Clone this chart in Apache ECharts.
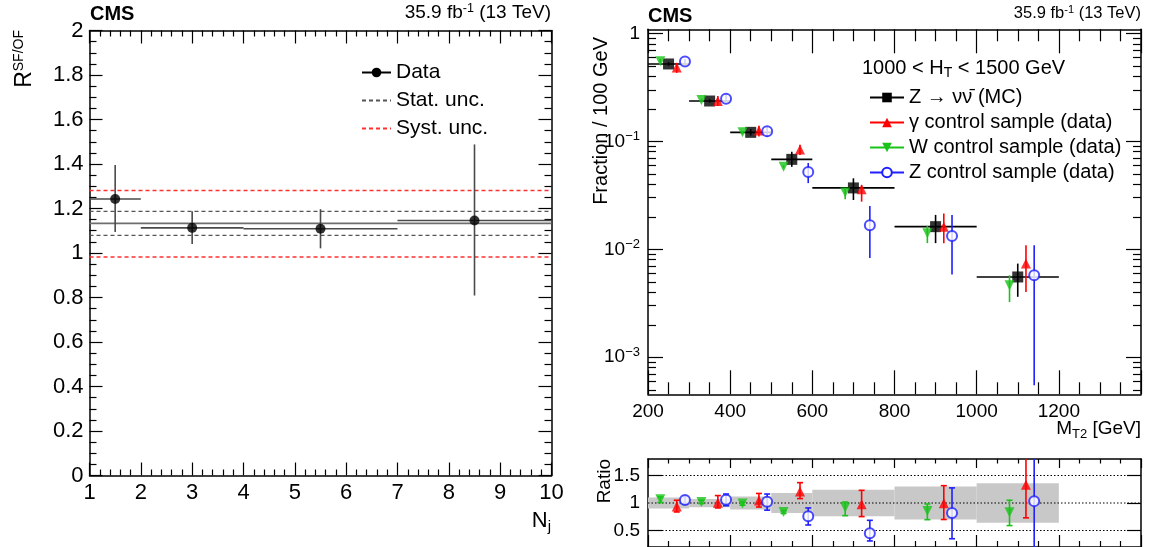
<!DOCTYPE html>
<html>
<head>
<meta charset="utf-8">
<title>R SF/OF and MT2 shapes</title>
<script src="https://cdn.jsdelivr.net/npm/echarts@6.0.0/dist/echarts.min.js"></script>
<style>
  html, body { margin: 0; padding: 0; background: #fff; }
  #main { width: 1149px; height: 547px; }
</style>
</head>
<body>
<div id="main"></div>
<script>
var FONT = '"Liberation Sans", Arial, Helvetica, sans-serif';

// ---- left: R(SF/OF) vs Nj ----
var njX = [1.5, 3, 5.5, 8.5];
var njLow = [1, 2, 4, 7];
var njHigh = [2, 4, 7, 10];
var rsfof = [1.243, 1.113, 1.109, 1.146];
var rsfofDown = [1.094, 1.040, 1.021, 0.809];
var rsfofUp = [1.395, 1.188, 1.197, 1.488];
var rCentral = 1.133;
var rStat = [1.079, 1.187];
var rSyst = [0.982, 1.281];

// ---- right: MT2 shape, 1000 < HT < 1500 GeV ----
var binLow = [200, 300, 400, 500, 600, 800, 1000];
var binHigh = [300, 400, 500, 600, 800, 1000, 1200];

var mcX = [250, 350, 450, 550, 700, 900, 1100];
var mcFrac = [0.520, 0.236, 0.121, 0.068, 0.037, 0.0162, 0.00554];
var mcDown = [0.500, 0.228, 0.113, 0.058, 0.0286, 0.0114, 0.00363];
var mcUp = [0.542, 0.245, 0.130, 0.080, 0.0454, 0.0208, 0.00737];

var gX = [270, 370, 470, 570, 720, 920, 1120];
var gFrac = [0.481, 0.236, 0.1256, 0.0838, 0.036, 0.0162, 0.00737];
var gDown = [0.430, 0.212, 0.111, 0.0746, 0.0276, 0.0114, 0.00403];
var gUp = [0.532, 0.262, 0.139, 0.093, 0.0394, 0.0214, 0.0109];

var wX = [230, 330, 430, 530, 680, 880, 1080];
var wFrac = [0.551, 0.241, 0.121, 0.058, 0.0335, 0.0141, 0.00464];
var wDown = [0.522, 0.234, 0.117, 0.056, 0.029, 0.0114, 0.00325];
var wUp = [0.580, 0.248, 0.125, 0.060, 0.037, 0.0165, 0.00575];

var zX = [290, 390, 490, 590, 740, 940, 1140];
var zFrac = [0.547, 0.248, 0.124, 0.052, 0.0167, 0.0133, 0.00575];
var zDown = [0.525, 0.235, 0.110, 0.041, 0.0083, 0.00583, 0.00055];
var zUp = [0.580, 0.270, 0.136, 0.063, 0.0252, 0.0208, 0.0109];

// ratio to MC
var bandHalf = [0.10, 0.075, 0.12, 0.18, 0.24, 0.30, 0.36];
var gRatio = [0.938, 1.005, 1.045, 1.208, 0.978, 0.994, 1.33];
var gRatioDown = [0.837, 0.91, 0.927, 1.08, 0.753, 0.70, 0.73];
var gRatioUp = [1.05, 1.135, 1.174, 1.37, 1.23, 1.315, 2.0];
var wRatio = [1.067, 1.02, 0.99, 0.837, 0.916, 0.854, 0.83];
var wRatioDown = [1.01, 0.99, 0.96, 0.81, 0.77, 0.697, 0.59];
var wRatioUp = [1.11, 1.05, 1.02, 0.86, 1.017, 0.983, 1.05];
var zRatio = [1.056, 1.06, 1.022, 0.758, 0.45, 0.82, 1.034];
var zRatioDown = [0.983, 0.95, 0.87, 0.60, 0.31, 0.35, 0.0];
var zRatioUp = [1.118, 1.163, 1.163, 0.91, 0.685, 1.275, 2.5];

// axis ticks
var logTicks = [-3, -2, -1, 0];
var ratioTicks = [0.5, 1, 1.5];
var logMin = -3.343, logMax = 0.037;

var RED = '#ff0000', GREEN = '#19c319', BLUE = '#1f1fff', BLACK = '#000';

var logMinor = [];
for (var n = -4; n <= 0; n++) {
    for (var k = 2; k <= 9; k++) {
        var v = Math.log10(k) + n;
        if (v > logMin && v < logMax) logMinor.push(v);
    }
}

function lg(v) { return Math.log10(v); }

// [x, y, lo, hi, xlo, xhi]
function rows(xs, ys, lo, hi, useLog, xl, xh) {
    var f = useLog ? lg : function (v) { return v; };
    return xs.map(function (x, i) {
        return [x, f(ys[i]), f(lo[i]), f(hi[i]), xl ? xl[i] : x, xh ? xh[i] : x];
    });
}
function markers(xs, ys, useLog) {
    return xs.map(function (x, i) { return [x, useLog ? lg(ys[i]) : ys[i]]; });
}

function barRender(color, xbar, cap) {
    return function (params, api) {
        var x = api.value(0);
        var hi = api.coord([x, api.value(3)]);
        var lo = api.coord([x, api.value(2)]);
        var st = { stroke: color, lineWidth: 1.6 };
        var kids = [{ type: 'line', shape: { x1: hi[0], y1: hi[1], x2: lo[0], y2: lo[1] }, style: st }];
        if (xbar) {
            var l = api.coord([api.value(4), api.value(1)]);
            var r = api.coord([api.value(5), api.value(1)]);
            kids.push({ type: 'line', shape: { x1: l[0], y1: l[1], x2: r[0], y2: r[1] }, style: st });
        }
        if (cap) {
            kids.push({ type: 'line', shape: { x1: hi[0] - 3, y1: hi[1], x2: hi[0] + 3, y2: hi[1] }, style: st });
            kids.push({ type: 'line', shape: { x1: lo[0] - 3, y1: lo[1], x2: lo[0] + 3, y2: lo[1] }, style: st });
        }
        return { type: 'group', children: kids };
    };
}

function bandRender(params, api) {
    var a = api.coord([api.value(0), api.value(3)]);
    var b = api.coord([api.value(1), api.value(2)]);
    return { type: 'rect', shape: { x: a[0], y: a[1], width: b[0] - a[0], height: b[1] - a[1] }, style: { fill: '#c8c8c8' } };
}

var tickStyle = { color: '#000', width: 1.2 };
var frame = { show: true, onZero: false, lineStyle: { color: '#000', width: 1.5 } };
var noLine = { show: false, onZero: false };

function xAx(grid, pos, min, max, interval, major, minor, split, labels) {
    return {
        gridIndex: grid, type: 'value', position: pos, min: min, max: max, interval: interval,
        axisLine: frame,
        axisTick: { inside: true, length: major, lineStyle: tickStyle },
        minorTick: { show: true, splitNumber: split, length: minor, lineStyle: tickStyle },
        axisLabel: labels || { show: false },
        splitLine: { show: false }
    };
}

var option = {
    animation: false,
    backgroundColor: '#fff',
    textStyle: { fontFamily: FONT },
    grid: [
        { left: 89.5, top: 30.5, width: 462, height: 445 },
        { left: 648, top: 29.3, width: 493, height: 365 },
        { left: 648, top: 459, width: 493, height: 95 }
    ],
    xAxis: [
        xAx(0, 'bottom', 1, 10, 1, 13, 6, 5, {
            fontSize: 22, color: '#000', fontFamily: FONT, margin: 6, showMinLabel: true, showMaxLabel: true
        }),
        xAx(0, 'top', 1, 10, 1, 13, 6, 5),
        xAx(1, 'bottom', 200, 1400, 200, 24, 12, 4, {
            fontSize: 19, color: '#000', fontFamily: FONT, margin: 8, showMinLabel: true,
            formatter: function (v) { return v === 1400 ? '' : String(v); }
        }),
        xAx(1, 'top', 200, 1400, 200, 24, 12, 4),
        xAx(2, 'bottom', 200, 1400, 200, 12, 6, 4),
        xAx(2, 'top', 200, 1400, 200, 9, 4.5, 4)
    ],
    yAxis: [
        {
            gridIndex: 0, type: 'value', position: 'left', min: 0, max: 2, interval: 0.2,
            axisLine: frame,
            axisTick: { inside: true, length: 13, lineStyle: tickStyle },
            minorTick: { show: true, splitNumber: 4, length: 7, lineStyle: tickStyle },
            axisLabel: {
                fontSize: 22, color: '#000', fontFamily: FONT, margin: 6,
                formatter: function (v) { return String(Math.round(v * 10) / 10); }
            },
            splitLine: { show: false }
        },
        {
            gridIndex: 0, type: 'value', position: 'right', min: 0, max: 2, interval: 0.2,
            axisLine: frame,
            axisTick: { inside: true, length: 13, lineStyle: tickStyle },
            minorTick: { show: true, splitNumber: 4, length: 7, lineStyle: tickStyle },
            axisLabel: { show: false }, splitLine: { show: false }
        },
        {
            gridIndex: 1, type: 'value', position: 'left', min: logMin, max: logMax,
            axisLine: frame,
            axisTick: { inside: true, length: 15, lineStyle: tickStyle, customValues: logTicks },
            axisLabel: {
                customValues: logTicks, margin: 8,
                formatter: function (v) {
                    var e = Math.round(v);
                    return e === 0 ? '{b|1}' : '{b|10}{s|\u2212' + (-e) + '}';
                },
                rich: {
                    b: { fontSize: 19, fontFamily: FONT, color: '#000' },
                    s: { fontSize: 13, fontFamily: FONT, color: '#000', padding: [0, 0, 9, 0] }
                }
            },
            splitLine: { show: false }
        },
        {
            gridIndex: 1, type: 'value', position: 'left', min: logMin, max: logMax,
            axisLine: noLine,
            axisTick: { inside: true, length: 8, lineStyle: tickStyle, customValues: logMinor },
            axisLabel: { show: false }, splitLine: { show: false }
        },
        {
            gridIndex: 1, type: 'value', position: 'right', min: logMin, max: logMax,
            axisLine: frame,
            axisTick: { inside: true, length: 15, lineStyle: tickStyle, customValues: logTicks },
            axisLabel: { show: false }, splitLine: { show: false }
        },
        {
            gridIndex: 1, type: 'value', position: 'right', min: logMin, max: logMax,
            axisLine: noLine,
            axisTick: { inside: true, length: 8, lineStyle: tickStyle, customValues: logMinor },
            axisLabel: { show: false }, splitLine: { show: false }
        },
        {
            gridIndex: 2, type: 'value', position: 'left', min: 0.2, max: 1.8,
            axisLine: frame,
            axisTick: { inside: true, length: 14, lineStyle: tickStyle, customValues: ratioTicks },
            axisLabel: {
                customValues: ratioTicks, fontSize: 19, color: '#000', fontFamily: FONT, margin: 8,
                formatter: function (v) { return String(v); }
            },
            splitLine: { show: false }
        },
        {
            gridIndex: 2, type: 'value', position: 'right', min: 0.2, max: 1.8,
            axisLine: frame,
            axisTick: { inside: true, length: 14, lineStyle: tickStyle, customValues: ratioTicks },
            axisLabel: { show: false }, splitLine: { show: false }
        }
    ],
    legend: [
        {
            orient: 'vertical', left: 356, top: 57, itemWidth: 29, itemHeight: 12, itemGap: 7,
            data: ['Data',
                { name: 'Stat. unc.', itemStyle: { opacity: 0 } },
                { name: 'Syst. unc.', itemStyle: { opacity: 0 } }],
            textStyle: { fontSize: 21, fontFamily: FONT, color: '#000', lineHeight: 21 },
            selectedMode: false
        },
        {
            orient: 'vertical', left: 864, top: 82.5, itemWidth: 34, itemHeight: 12, itemGap: 5,
            data: ['Z \u2192 \u03bd\u03bd\u0304 (MC)', '\u03b3 control sample (data)',
                'W control sample (data)', 'Z control sample (data)'],
            textStyle: { fontSize: 20, fontFamily: FONT, color: '#000', lineHeight: 20 },
            selectedMode: false
        }
    ],
    graphic: [
        { type: 'text', x: 90, y: 14, style: { text: 'CMS', fontSize: 20, fontWeight: 'bold', fontFamily: FONT, fill: '#000', align: 'left', verticalAlign: 'middle' } },
        { type: 'text', x: 551, y: 13, style: {
            text: '{a|35.9 fb}{s|-1}{a| (13 TeV)}', align: 'right', verticalAlign: 'middle',
            rich: { a: { fontSize: 19, fontFamily: FONT, fill: '#000' }, s: { fontSize: 12.5, fontFamily: FONT, fill: '#000', padding: [0, 0, 8, 0] } } } },
        { type: 'text', x: 648, y: 16, style: { text: 'CMS', fontSize: 20, fontWeight: 'bold', fontFamily: FONT, fill: '#000', align: 'left', verticalAlign: 'middle' } },
        { type: 'text', x: 1141, y: 13, style: {
            text: '{a|35.9 fb}{s|-1}{a| (13 TeV)}', align: 'right', verticalAlign: 'middle',
            rich: { a: { fontSize: 16.5, fontFamily: FONT, fill: '#000' }, s: { fontSize: 11, fontFamily: FONT, fill: '#000', padding: [0, 0, 7, 0] } } } },
        { type: 'text', x: 25, y: 30, rotation: Math.PI / 2, style: {
            text: '{r|R}{s|SF/OF}', align: 'right', verticalAlign: 'middle',
            rich: { r: { fontSize: 23, fontFamily: FONT, fill: '#000' }, s: { fontSize: 14, fontFamily: FONT, fill: '#000', padding: [0, 0, 12, 0] } } } },
        { type: 'text', x: 551, y: 521, style: {
            text: '{a|N}{j|j}', align: 'right', verticalAlign: 'middle',
            rich: { a: { fontSize: 22, fontFamily: FONT, fill: '#000' }, j: { fontSize: 15, fontFamily: FONT, fill: '#000', padding: [12, 0, 0, 0] } } } },
        { type: 'text', x: 601, y: 37, rotation: Math.PI / 2, style: {
            text: 'Fraction / 100 GeV', fontSize: 20, fontFamily: FONT, fill: '#000', align: 'right', verticalAlign: 'middle' } },
        { type: 'text', x: 1141, y: 429, style: {
            text: '{a|M}{t|T2}{a| [GeV]}', align: 'right', verticalAlign: 'middle',
            rich: { a: { fontSize: 19, fontFamily: FONT, fill: '#000' }, t: { fontSize: 13, fontFamily: FONT, fill: '#000', padding: [11, 0, 0, 0] } } } },
        { type: 'text', x: 605, y: 459, rotation: Math.PI / 2, style: {
            text: 'Ratio', fontSize: 19, fontFamily: FONT, fill: '#000', align: 'right', verticalAlign: 'middle' } },
        { type: 'text', x: 862, y: 68, style: {
            text: '{a|1000 < H}{t|T}{a| < 1500 GeV}', align: 'left', verticalAlign: 'middle',
            rich: { a: { fontSize: 20, fontFamily: FONT, fill: '#000' }, t: { fontSize: 14, fontFamily: FONT, fill: '#000', padding: [11, 0, 0, 0] } } } }
    ],
    series: []
};

var S = option.series;

// ---- left panel ----
S.push({ type: 'line', xAxisIndex: 0, yAxisIndex: 0, data: [[1, rCentral], [10, rCentral]], symbol: 'none', silent: true,
    lineStyle: { color: '#6e6e6e', width: 1.6 }, z: 2 });
rStat.forEach(function (v) {
    S.push({ name: 'Stat. unc.', type: 'line', xAxisIndex: 0, yAxisIndex: 0, data: [[1, v], [10, v]], symbol: 'none', silent: true,
        lineStyle: { color: '#555', width: 1.4, type: [4, 3] }, itemStyle: { color: '#555' }, z: 2 });
});
rSyst.forEach(function (v) {
    S.push({ name: 'Syst. unc.', type: 'line', xAxisIndex: 0, yAxisIndex: 0, data: [[1, v], [10, v]], symbol: 'none', silent: true,
        lineStyle: { color: '#ff3030', width: 1.4, type: [4, 3] }, itemStyle: { color: '#ff3030' }, z: 2 });
});
S.push({ name: 'Data', type: 'line', xAxisIndex: 0, yAxisIndex: 0, data: [], symbol: 'circle', symbolSize: 10,
    itemStyle: { color: BLACK }, lineStyle: { color: BLACK, width: 1.5 } });
S.push({ type: 'custom', xAxisIndex: 0, yAxisIndex: 0, renderItem: barRender('#4a4a4a', true, false),
    data: rows(njX, rsfof, rsfofDown, rsfofUp, false, njLow, njHigh), encode: { x: 0, y: 1 }, z: 3, silent: true });
S.push({ type: 'scatter', xAxisIndex: 0, yAxisIndex: 0, data: markers(njX, rsfof, false), symbol: 'circle', symbolSize: 10,
    itemStyle: { color: BLACK }, z: 4, silent: true });

// ---- right top panel ----
var groups = [
    { name: 'Z \u2192 \u03bd\u03bd\u0304 (MC)', x: mcX, y: mcFrac, lo: mcDown, hi: mcUp, color: BLACK, symbol: 'rect', rot: 0, xbar: true },
    { name: '\u03b3 control sample (data)', x: gX, y: gFrac, lo: gDown, hi: gUp, color: RED, symbol: 'triangle', rot: 0 },
    { name: 'W control sample (data)', x: wX, y: wFrac, lo: wDown, hi: wUp, color: GREEN, symbol: 'triangle', rot: 180 },
    { name: 'Z control sample (data)', x: zX, y: zFrac, lo: zDown, hi: zUp, color: BLUE, symbol: 'emptyCircle', rot: 0 }
];
groups.forEach(function (g) {
    S.push({ name: g.name, type: 'line', xAxisIndex: 2, yAxisIndex: 2, data: [], symbol: g.symbol, symbolRotate: g.rot,
        symbolSize: 10, itemStyle: { color: g.color, borderWidth: 1.5 }, lineStyle: { color: g.color, width: 1.6 } });
    S.push({ type: 'custom', xAxisIndex: 2, yAxisIndex: 2, renderItem: barRender(g.color, !!g.xbar, false),
        data: rows(g.x, g.y, g.lo, g.hi, true, binLow, binHigh), encode: { x: 0, y: 1 }, z: 3, silent: true });
    S.push({ type: 'scatter', xAxisIndex: 2, yAxisIndex: 2, data: markers(g.x, g.y, true), symbol: g.symbol, symbolRotate: g.rot,
        symbolSize: g.symbol === 'rect' ? 11 : 10,
        itemStyle: { color: g.color, borderColor: g.color, borderWidth: g.symbol === 'emptyCircle' ? 1.5 : 0 }, z: 4, silent: true });
});

// ---- ratio panel ----
S.push({ type: 'custom', xAxisIndex: 4, yAxisIndex: 6, renderItem: bandRender, clip: true, silent: true, z: 1,
    data: binLow.map(function (b, i) { return [b, binHigh[i], 1 - bandHalf[i], 1 + bandHalf[i]]; }) });
ratioTicks.forEach(function (v) {
    S.push({ type: 'line', xAxisIndex: 4, yAxisIndex: 6, data: [[200, v], [1400, v]], symbol: 'none', silent: true, z: 2,
        lineStyle: { color: '#000', width: 1, type: [1.5, 2] } });
});
var ratios = [
    { x: gX, y: gRatio, lo: gRatioDown, hi: gRatioUp, color: RED, symbol: 'triangle', rot: 0 },
    { x: wX, y: wRatio, lo: wRatioDown, hi: wRatioUp, color: GREEN, symbol: 'triangle', rot: 180 },
    { x: zX, y: zRatio, lo: zRatioDown, hi: zRatioUp, color: BLUE, symbol: 'emptyCircle', rot: 0 }
];
ratios.forEach(function (g) {
    S.push({ type: 'custom', xAxisIndex: 4, yAxisIndex: 6, renderItem: barRender(g.color, false, true), clip: true,
        data: rows(g.x, g.y, g.lo, g.hi, false), encode: { x: 0, y: 1 }, z: 3, silent: true });
    S.push({ type: 'scatter', xAxisIndex: 4, yAxisIndex: 6, data: markers(g.x, g.y, false), symbol: g.symbol, symbolRotate: g.rot,
        symbolSize: 10, itemStyle: { color: g.color, borderColor: g.color, borderWidth: g.symbol === 'emptyCircle' ? 1.5 : 0 }, z: 4, silent: true });
});

var chart = echarts.init(document.getElementById('main'));
chart.setOption(option);
</script>
</body>
</html>
